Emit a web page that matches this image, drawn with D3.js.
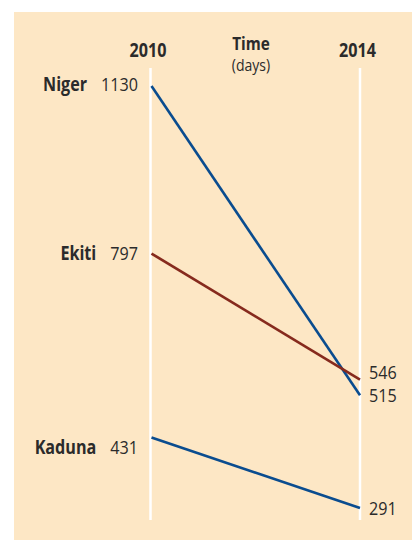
<!DOCTYPE html>
<html>
<head>
<meta charset="utf-8">
<script src="https://cdn.jsdelivr.net/npm/d3@7"></script>
<style>
  html, body { margin: 0; padding: 0; background: #ffffff; }
  svg { display: block; }
  text { font-family: "Open Sans", "Noto Sans", sans-serif; fill: #2b2b2b; }
</style>
</head>
<body>
<svg id="chart" width="412" height="540"></svg>
<script>
// Time taken (days), by state, 2010 vs 2014
const regions = ["Niger", "Ekiti", "Kaduna"];
const days2010 = [1130, 797, 431];
const days2014 = [515, 546, 291];
const years = ["2010", "2014"];
const seriesColors = ["#0a4c8f", "#862a1d", "#0a4c8f"];

// label nudges so overlapping labels stay readable
const leftNudge = [-2, -1, 9];
const rightNudge = [0, -8, 0];

const W = 412, H = 540;
const svg = d3.select("#chart");
const SX = 0.85;      // horizontal squeeze for a condensed look
const FS = 19;

svg.append("rect")
  .attr("x", 14).attr("y", 12)
  .attr("width", W - 14).attr("height", H - 12)
  .attr("fill", "#fde7c5");

const x = d3.scalePoint().domain(years).range([150.5, 360]);
const y = d3.scaleLinear().domain([267, 1166]).range([520, 68]);

// vertical year rules
svg.selectAll("line.rule").data(years).join("line")
  .attr("class", "rule")
  .attr("x1", d => x(d)).attr("x2", d => x(d))
  .attr("y1", y.range()[1]).attr("y2", y.range()[0])
  .attr("stroke", "#ffffff").attr("stroke-width", 2.5);

function label(g, str, px, py, anchor, weight) {
  return g.append("text")
    .attr("transform", `translate(${px},${py}) scale(${SX},1)`)
    .attr("text-anchor", anchor)
    .attr("font-size", FS)
    .attr("font-weight", weight)
    .text(str);
}

// column headers
years.forEach(yr => label(svg, yr, x(yr) - 2.5, 57, "middle", 700));
label(svg, "Time", 251, 50, "middle", 700).attr("font-size", 18);
label(svg, "(days)", 251, 71, "middle", 400).attr("font-size", 16.5);

// slope lines
const rows = regions.map((r, i) => ({ name: r, a: days2010[i], b: days2014[i], color: seriesColors[i], i }));
svg.selectAll("line.slope").data(rows).join("line")
  .attr("class", "slope")
  .attr("x1", x(years[0]) + 1).attr("x2", x(years[1]))
  .attr("y1", d => y(d.a)).attr("y2", d => y(d.b))
  .attr("stroke", d => d.color).attr("stroke-width", 2.6)
  .attr("stroke-linecap", "butt");

// left labels: value then name
const capHalf = 7;
rows.forEach(d => {
  const by = y(d.a) + leftNudge[d.i] + capHalf;
  const v = label(svg, d3.format("d")(d.a), 138, by, "end", 400);
  const vw = v.node().getComputedTextLength() * SX;
  label(svg, d.name, 138 - vw - 14, by, "end", 700);
});

// right labels
rows.forEach(d => {
  const by = y(d.b) + rightNudge[d.i] + capHalf;
  label(svg, d3.format("d")(d.b), 369, by, "start", 400);
});
</script>
</body>
</html>
